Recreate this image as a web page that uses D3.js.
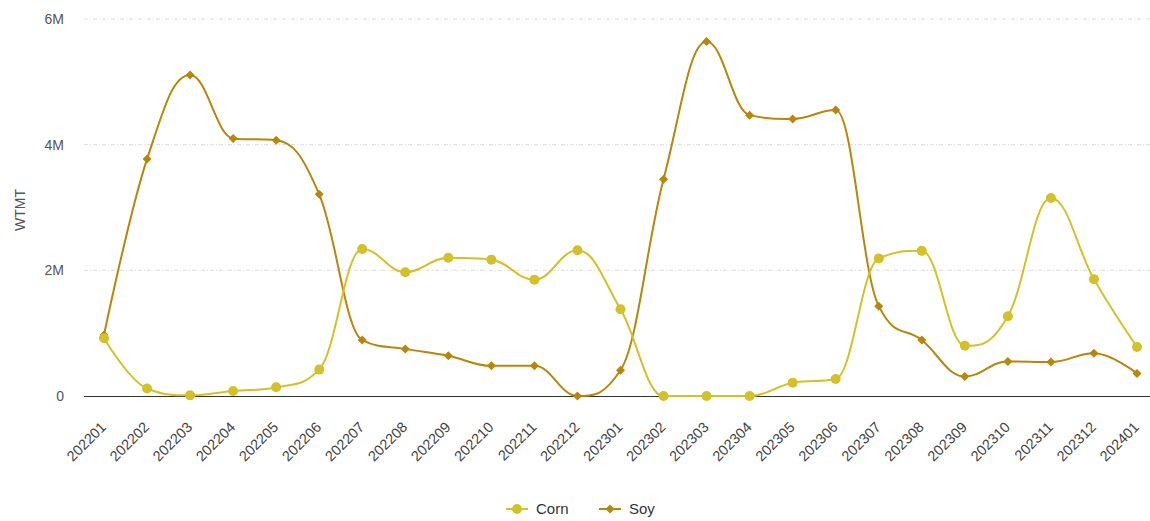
<!DOCTYPE html>
<html>
<head>
<meta charset="utf-8">
<script src="https://cdn.jsdelivr.net/npm/d3@7"></script>
<style>
  body { margin: 0; background: #fff; }
  svg { font-family: "Liberation Sans", Arial, sans-serif; }
</style>
</head>
<body>
<svg id="chart" width="1150" height="521"></svg>
<script>
const months = ["202201","202202","202203","202204","202205","202206","202207","202208","202209","202210","202211","202212",
  "202301","202302","202303","202304","202305","202306","202307","202308","202309","202310","202311","202312","202401"];
const corn = [0.92,0.12,0.01,0.08,0.14,0.42,2.34,1.97,2.2,2.17,1.85,2.32,1.38,0,0,0,0.21,0.27,2.19,2.31,0.8,1.27,3.15,1.86,0.78].map(v => v * 1e6);
const soy = [0.97,3.77,5.11,4.10,4.07,3.21,0.89,0.75,0.64,0.48,0.48,0,0.41,3.45,5.64,4.47,4.41,4.55,1.43,0.89,0.31,0.55,0.54,0.68,0.36].map(v => v * 1e6);
const yTicks = [0, 2e6, 4e6, 6e6];
const seriesNames = ["Corn", "Soy"];
const colors = { Corn: "#d4c12a", Soy: "#b8860b" };

const svg = d3.select("#chart");
const plot = { left: 84, right: 1150, top: 19, bottom: 396 };

const x = d3.scalePoint().domain(months).range([104, 1137]);
const y = d3.scaleLinear().domain([0, 6e6]).range([plot.bottom, plot.top]);

// spline with control points clamped so it never overshoots a neighbour
function spline(pts) {
  const cont = pts.map((p, i) => {
    if (i === 0 || i === pts.length - 1) return null;
    const [lx, ly] = pts[i - 1], [nx, ny] = pts[i + 1], [px, py] = p;
    const lcx = (1.5 * px + lx) / 2.5, rcx = (1.5 * px + nx) / 2.5;
    let lcy = (1.5 * py + ly) / 2.5, rcy = (1.5 * py + ny) / 2.5;
    const corr = ((rcy - lcy) * (rcx - px)) / (rcx - lcx) + py - rcy;
    lcy += corr; rcy += corr;
    if (lcy > ly && lcy > py) { lcy = Math.max(ly, py); rcy = 2 * py - lcy; }
    else if (lcy < ly && lcy < py) { lcy = Math.min(ly, py); rcy = 2 * py - lcy; }
    if (rcy > ny && rcy > py) { rcy = Math.max(ny, py); lcy = 2 * py - rcy; }
    else if (rcy < ny && rcy < py) { rcy = Math.min(ny, py); lcy = 2 * py - rcy; }
    return { lcx, lcy, rcx, rcy };
  });
  const path = d3.path();
  path.moveTo(pts[0][0], pts[0][1]);
  for (let i = 1; i < pts.length; i++) {
    const a = cont[i - 1], b = cont[i];
    path.bezierCurveTo(
      a ? a.rcx : pts[i - 1][0], a ? a.rcy : pts[i - 1][1],
      b ? b.lcx : pts[i][0], b ? b.lcy : pts[i][1],
      pts[i][0], pts[i][1]);
  }
  return path.toString();
}

// grid lines
svg.append("g")
  .selectAll("line")
  .data(yTicks.filter(d => d > 0))
  .join("line")
  .attr("x1", plot.left).attr("x2", plot.right)
  .attr("y1", d => y(d)).attr("y2", d => y(d))
  .attr("stroke", "#dcdcdc")
  .attr("stroke-dasharray", "4,2,1,2");

// y labels
svg.append("g")
  .selectAll("text")
  .data(yTicks)
  .join("text")
  .attr("x", 64).attr("y", d => y(d) + 5)
  .attr("text-anchor", "end")
  .attr("font-size", 14)
  .attr("fill", "#555")
  .text(d => d === 0 ? "0" : (d / 1e6) + "M");

svg.append("text")
  .attr("transform", "translate(25,210) rotate(-90)")
  .attr("text-anchor", "middle")
  .attr("font-size", 14)
  .attr("fill", "#555")
  .text("WTMT");

// x axis line
svg.append("line")
  .attr("x1", plot.left).attr("x2", plot.right)
  .attr("y1", plot.bottom + 0.5).attr("y2", plot.bottom + 0.5)
  .attr("stroke", "#333").attr("stroke-width", 1);

// x labels
svg.append("g")
  .selectAll("text")
  .data(months)
  .join("text")
  .attr("transform", d => `translate(${x(d) + 3},${plot.bottom + 32}) rotate(-45)`)
  .attr("text-anchor", "end")
  .attr("font-size", 14.5)
  .attr("fill", "#444")
  .text(d => d);

const diamond = s => `M0,${-s}L${s},0L0,${s}L${-s},0Z`;

// soy first so corn sits on top where they meet
[["Soy", soy], ["Corn", corn]].forEach(([name, vals]) => {
  const g = svg.append("g");
  g.append("path")
    .attr("d", spline(vals.map((v, i) => [x(months[i]), y(v)])))
    .attr("fill", "none")
    .attr("stroke", colors[name])
    .attr("stroke-width", 2);
  const pts = g.selectAll("g.pt")
    .data(vals)
    .join("g")
    .attr("transform", (d, i) => `translate(${x(months[i])},${y(d)})`);
  if (name === "Corn") {
    pts.append("circle").attr("r", 5).attr("fill", colors[name]);
  } else {
    pts.append("path").attr("d", diamond(4.5)).attr("fill", colors[name]);
  }
});

// legend
const legend = svg.append("g").attr("transform", "translate(0,509)");
const legendX = { Corn: 506, Soy: 599 };
seriesNames.forEach(name => {
  const lg = legend.append("g").attr("transform", `translate(${legendX[name]},0)`);
  lg.append("line").attr("x1", 0).attr("x2", 22).attr("y1", 0).attr("y2", 0)
    .attr("stroke", colors[name]).attr("stroke-width", 2);
  if (name === "Corn") {
    lg.append("circle").attr("cx", 11).attr("r", 5).attr("fill", colors[name]);
  } else {
    lg.append("path").attr("transform", "translate(11,0)").attr("d", diamond(4.5)).attr("fill", colors[name]);
  }
  lg.append("text").attr("x", 30).attr("y", 5)
    .attr("font-size", 15).attr("fill", "#333")
    .text(name);
});
</script>
</body>
</html>
